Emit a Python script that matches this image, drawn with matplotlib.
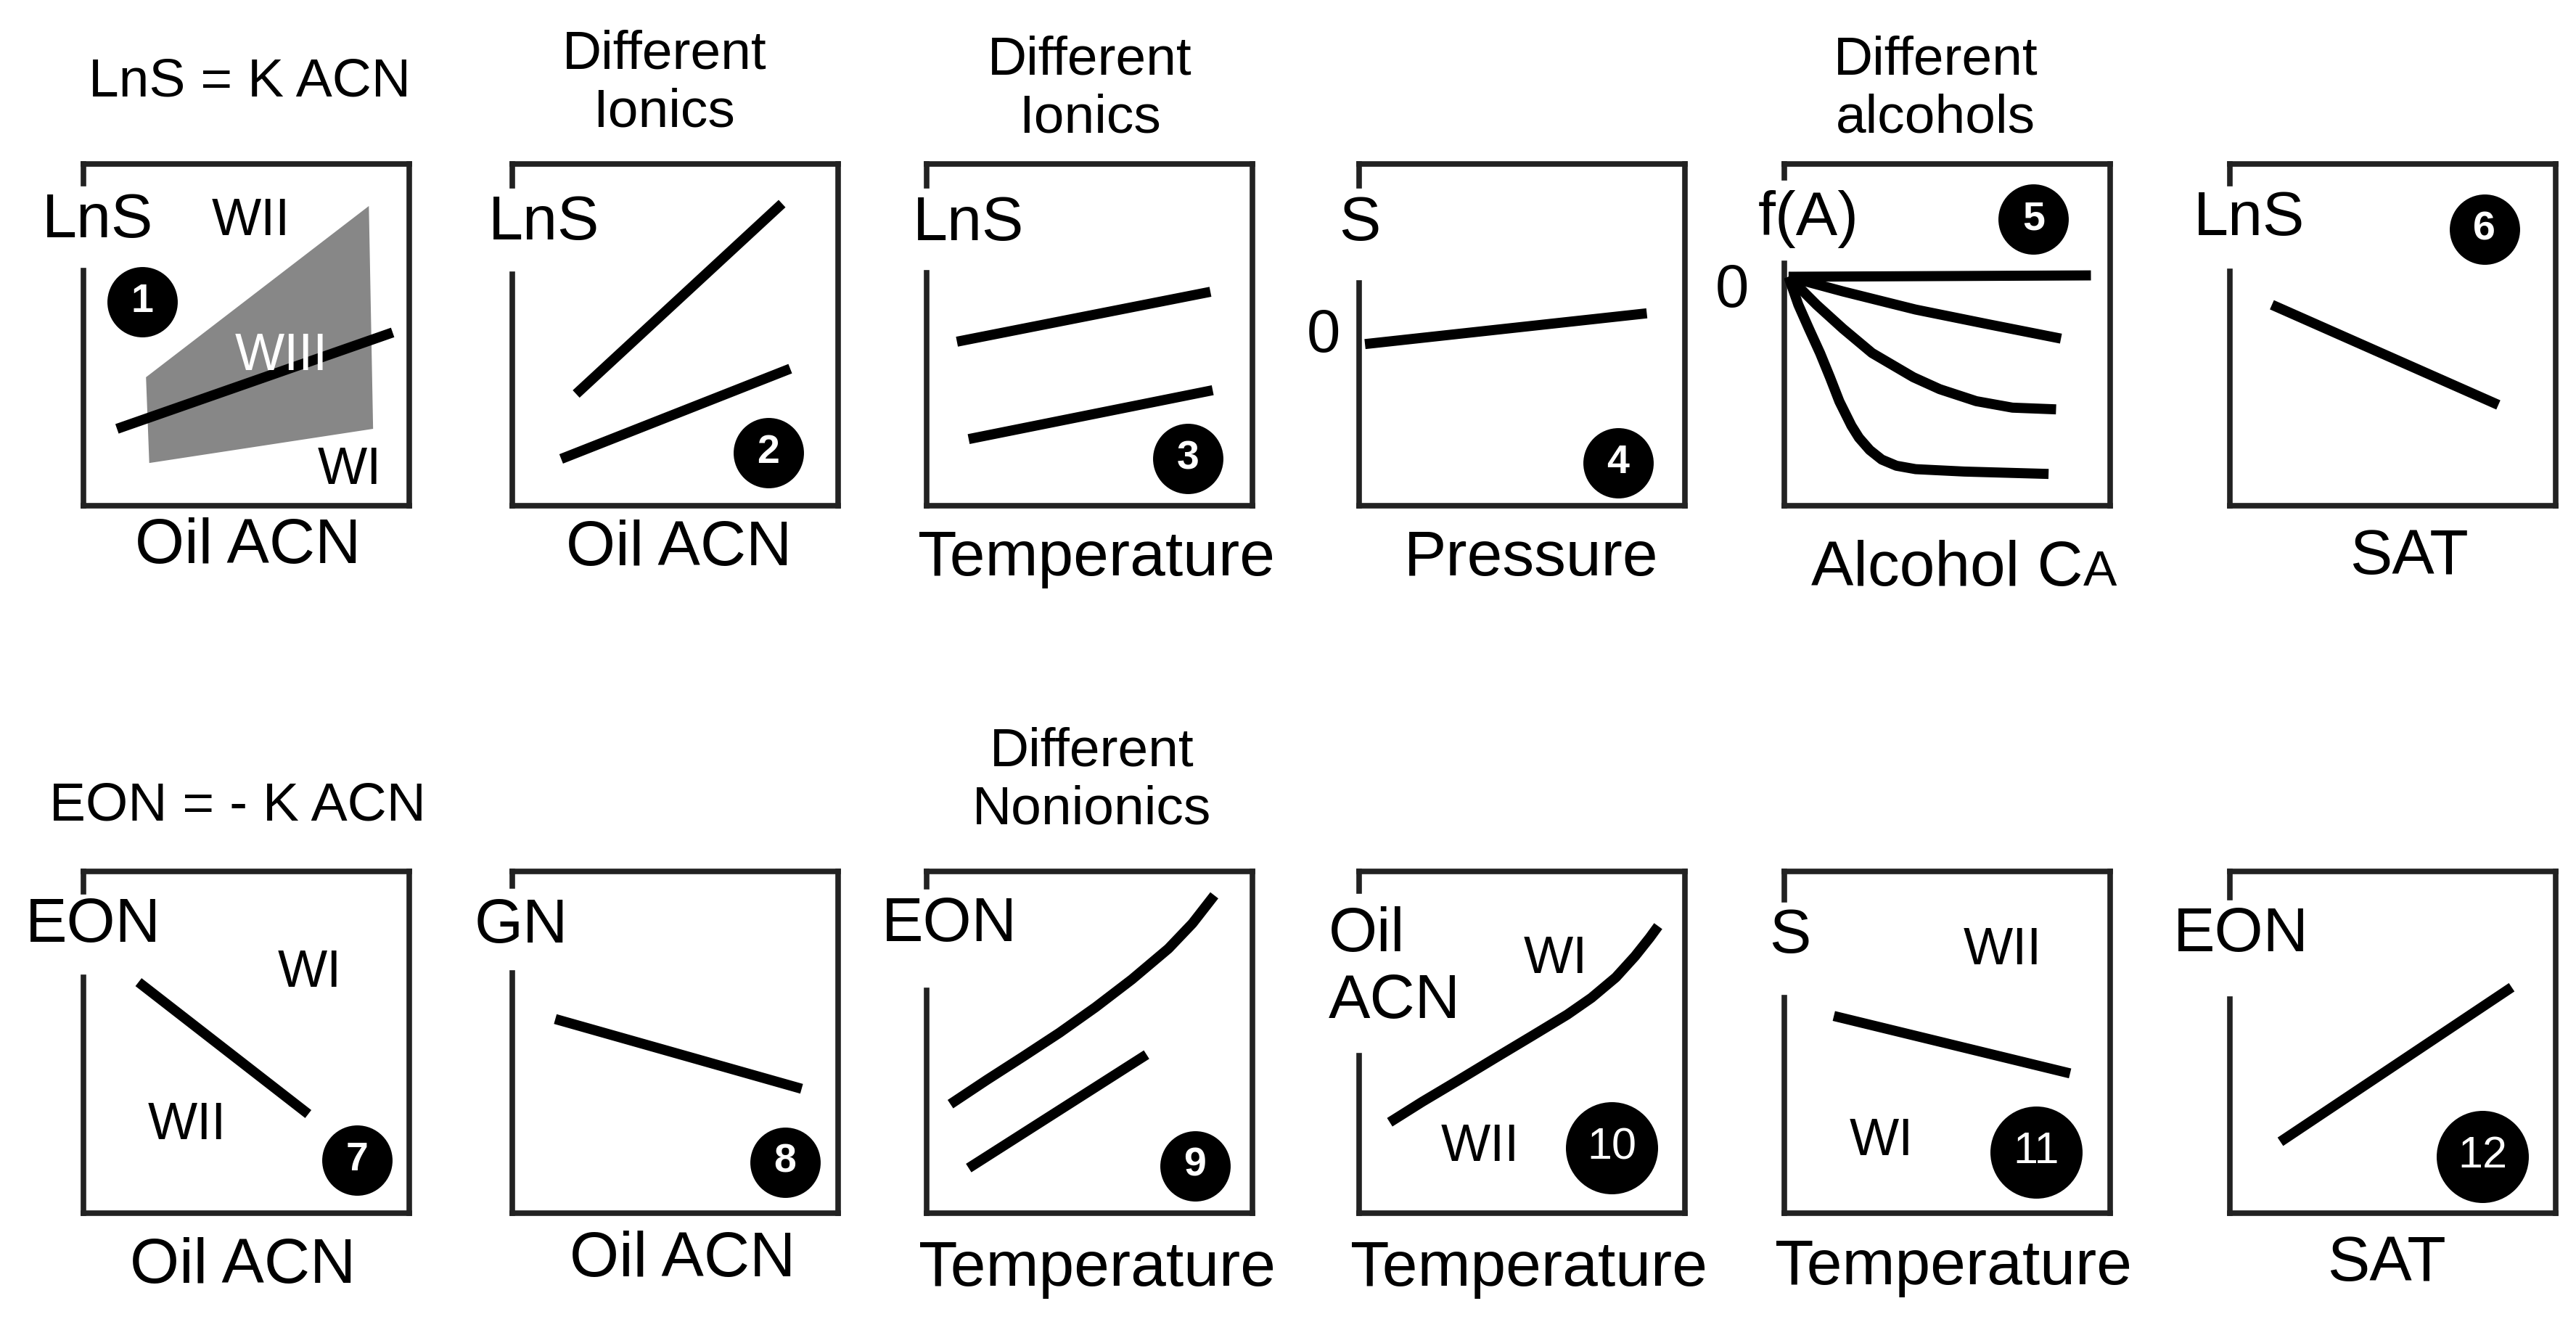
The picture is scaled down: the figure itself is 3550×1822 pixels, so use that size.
import matplotlib.pyplot as plt
import matplotlib as mpl
mpl.use('Agg')

plt.rcParams['font.family'] = ['Liberation Sans', 'DejaVu Sans']

# ---- data (all in axes units 0..1) ----
p1_zone_x = [0.192, 0.876, 0.889, 0.202]
p1_zone_y = [0.376, 0.877, 0.225, 0.125]
p1_line_x = [0.103, 0.949]
p1_line_y = [0.225, 0.507]

p2_upper_x = [0.196, 0.828]
p2_upper_y = [0.327, 0.884]
p2_lower_x = [0.150, 0.853]
p2_lower_y = [0.137, 0.401]

p3_upper_x = [0.093, 0.871]
p3_upper_y = [0.480, 0.626]
p3_lower_x = [0.129, 0.878]
p3_lower_y = [0.195, 0.338]

p4_x = [0.018, 0.883]
p4_y = [0.473, 0.563]

p5_c1_x = [0.013, 0.941]
p5_c1_y = [0.670, 0.674]
p5_c2_x = [0.013, 0.180, 0.403, 0.626, 0.849]
p5_c2_y = [0.670, 0.627, 0.574, 0.531, 0.489]
p5_c3_x = [0.013, 0.099, 0.180, 0.269, 0.396, 0.477, 0.589, 0.700, 0.834]
p5_c3_y = [0.670, 0.588, 0.518, 0.447, 0.376, 0.341, 0.306, 0.287, 0.282]
p5_c4_x = [0.013, 0.043, 0.076, 0.110, 0.140, 0.169, 0.206, 0.229, 0.262, 0.299, 0.344, 0.403, 0.552, 0.700, 0.811]
p5_c4_y = [0.670, 0.588, 0.517, 0.446, 0.376, 0.305, 0.234, 0.199, 0.163, 0.135, 0.117, 0.107, 0.100, 0.096, 0.093]

p6_x = [0.129, 0.824]
p6_y = [0.588, 0.295]

p7_x = [0.169, 0.690]
p7_y = [0.676, 0.290]

p8_x = [0.132, 0.888]
p8_y = [0.568, 0.364]

p9_upper_x = [0.073, 0.185, 0.296, 0.408, 0.519, 0.630, 0.742, 0.816, 0.883]
p9_upper_y = [0.319, 0.390, 0.458, 0.528, 0.603, 0.684, 0.774, 0.848, 0.930]
p9_lower_x = [0.129, 0.675]
p9_lower_y = [0.132, 0.464]

p10_x = [0.094, 0.194, 0.305, 0.416, 0.528, 0.639, 0.713, 0.788, 0.847, 0.892, 0.918]
p10_y = [0.266, 0.326, 0.389, 0.453, 0.517, 0.581, 0.630, 0.690, 0.752, 0.806, 0.840]

p11_x = [0.152, 0.877]
p11_y = [0.577, 0.409]

p12_x = [0.155, 0.865]
p12_y = [0.209, 0.661]

y_labels = ['LnS', 'LnS', 'LnS', 'S', 'f(A)', 'LnS',
            'EON', 'GN', 'EON', 'Oil\nACN', 'S', 'EON']
x_labels = ['Oil ACN', 'Oil ACN', 'Temperature', 'Pressure', 'Alcohol C', 'SAT',
            'Oil ACN', 'Oil ACN', 'Temperature', 'Temperature', 'Temperature', 'SAT']
titles = ['LnS = K ACN', 'Different\nIonics', 'Different\nIonics', '', 'Different\nalcohols', '',
          'EON = - K ACN', '', 'Different\nNonionics', '', '', '']
badges = [str(i) for i in range(1, 13)]

panel_lines = [
    [(p1_line_x, p1_line_y)],
    [(p2_upper_x, p2_upper_y), (p2_lower_x, p2_lower_y)],
    [(p3_upper_x, p3_upper_y), (p3_lower_x, p3_lower_y)],
    [(p4_x, p4_y)],
    [(p5_c1_x, p5_c1_y), (p5_c2_x, p5_c2_y), (p5_c3_x, p5_c3_y), (p5_c4_x, p5_c4_y)],
    [(p6_x, p6_y)],
    [(p7_x, p7_y)],
    [(p8_x, p8_y)],
    [(p9_upper_x, p9_upper_y), (p9_lower_x, p9_lower_y)],
    [(p10_x, p10_y)],
    [(p11_x, p11_y)],
    [(p12_x, p12_y)],
]

# region names written inside panels
region_text = {
    0: [('WII', 0.513, 0.832, 'black'), ('WIII', 0.607, 0.437, 'white'), ('WI', 0.818, 0.104, 'black')],
    6: [('WI', 0.695, 0.701, 'black'), ('WII', 0.318, 0.256, 'black')],
    9: [('WI', 0.604, 0.741, 'black'), ('WII', 0.371, 0.193, 'black')],
    10: [('WII', 0.670, 0.768, 'black'), ('WI', 0.298, 0.209, 'black')],
}
zero_marks = {3: (-0.11, 0.497), 4: (-0.16, 0.628)}

# ---- layout (pixels of the 3550x1822 canvas / axes fractions) ----
W, H = 3550, 1822
BOX_W, BOX_H = 449, 471
col_left = [115, 706, 1277, 1873, 2459, 3073]
row_bottom = [697, 1672]

ylab_pos = [(-0.127, 0.832), (-0.074, 0.825), (-0.042, 0.824), (-0.061, 0.824), (-0.081, 0.838), (-0.112, 0.838),
            (-0.178, 0.840), (-0.116, 0.838), (-0.138, 0.842), (-0.094, 0.715), (-0.047, 0.808), (-0.173, 0.813)]
xlab_pos = [(0.505, -0.121), (0.511, -0.127), (0.521, -0.157), (0.529, -0.157), (0.917, -0.234), (0.549, -0.152),
            (0.490, -0.156), (0.522, -0.136), (0.523, -0.164), (0.522, -0.164), (0.518, -0.160), (0.482, -0.149)]
title_pos = [(0.51, 1.240), (0.466, 1.236), (0.501, 1.218), None, (0.465, 1.218), None,
             (0.473, 1.191), None, (0.506, 1.265), None, None, None]
badge_pos = [(0.180, 0.597), (0.786, 0.154), (0.802, 0.138), (0.794, 0.125), (0.765, 0.838), (0.781, 0.808),
             (0.840, 0.154), (0.837, 0.149), (0.824, 0.139), (0.776, 0.192), (0.773, 0.179), (0.776, 0.166)]
spine_gap = [(0.688, 0.943), (0.677, 0.937), (0.682, 0.936), (0.652, 0.936), (0.709, 0.959), (0.686, 0.942),
             (0.691, 0.940), (0.702, 0.957), (0.652, 0.955), (0.461, 0.943), (0.630, 0.917), (0.626, 0.923)]

LW_DATA = 10
LW_BOX = 5.5
BOX_COLOR = '#222222'

fig = plt.figure(figsize=(W / 100, H / 100), dpi=100)
fig.patch.set_facecolor('white')

for i in range(12):
    r, c = divmod(i, 6)
    left = col_left[c] / W
    bottom = 1 - row_bottom[r] / H
    ax = fig.add_axes([left, bottom, BOX_W / W, BOX_H / H])
    ax.set_xlim(0, 1)
    ax.set_ylim(0, 1)
    ax.set_xticks([])
    ax.set_yticks([])
    for side in ['top', 'right', 'bottom']:
        ax.spines[side].set_linewidth(LW_BOX)
        ax.spines[side].set_color(BOX_COLOR)
    ax.spines['left'].set_visible(False)
    # left frame is broken where the y label sits
    lo, hi = spine_gap[i]
    ax.axvline(0, ymin=0, ymax=lo, lw=LW_BOX, color=BOX_COLOR, solid_capstyle='projecting', clip_on=False)
    ax.axvline(0, ymin=hi, ymax=1, lw=LW_BOX, color=BOX_COLOR, solid_capstyle='projecting', clip_on=False)

    if i == 0:
        ax.fill(p1_zone_x, p1_zone_y, color='#878787', lw=0, zorder=1)

    for xs, ys in panel_lines[i]:
        ax.plot(xs, ys, color='black', lw=LW_DATA, solid_capstyle='butt',
                solid_joinstyle='round', zorder=2)

    for txt, tx, ty, col in region_text.get(i, []):
        ax.text(tx, ty, txt, color=col, fontsize=52, ha='center', va='center', zorder=4)

    if i in zero_marks:
        zx, zy = zero_marks[i]
        ax.text(zx, zy, '0', fontsize=60, ha='center', va='center', clip_on=False)

    yx, yy = ylab_pos[i]
    ax.text(yx, yy, y_labels[i], fontsize=62, ha='left', va='center', linespacing=1.2, clip_on=False)

    xx, xy = xlab_pos[i]
    if i == 4:
        # "Alcohol CA" with a small-cap A
        ax.text(xx, xy, x_labels[i], fontsize=63, ha='right', va='baseline', clip_on=False)
        ax.text(xx, xy, 'A', fontsize=50, ha='left', va='baseline', clip_on=False)
    else:
        ax.text(xx, xy, x_labels[i], fontsize=63, ha='center', va='center', clip_on=False)

    if title_pos[i] is not None:
        tx, ty = title_pos[i]
        ax.text(tx, ty, titles[i], fontsize=54, ha='center', va='center', linespacing=1.2, clip_on=False)

    bx, by = badge_pos[i]
    two = len(badges[i]) > 1
    ax.scatter([bx], [by], s=8360 if two else 4870, color='black', zorder=5, clip_on=False, linewidths=0)
    ax.text(bx, by, badges[i], color='white', fontsize=44 if two else 40,
            fontweight='normal' if two else 'bold', ha='center', va='center', zorder=6)

fig.savefig('out.png', dpi=100, facecolor='white')
